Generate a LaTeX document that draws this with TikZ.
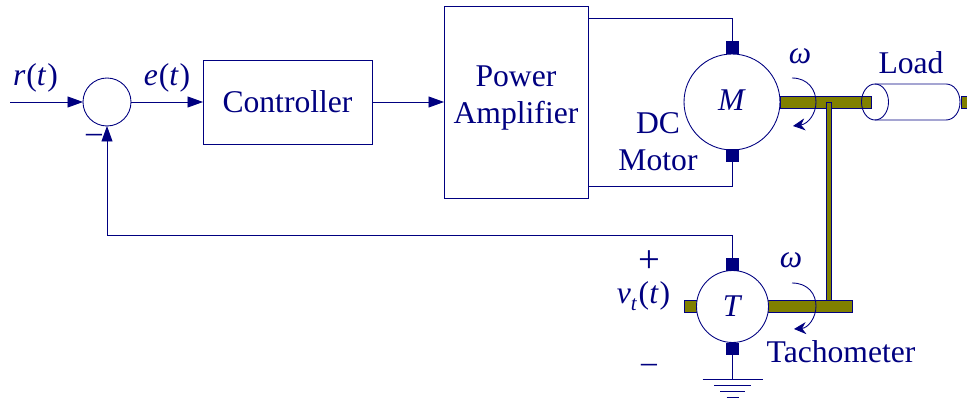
\documentclass[tikz,border=0pt]{standalone}
\usepackage{fontspec}
\setmainfont{Liberation Serif}
\usetikzlibrary{arrows.meta}

\tikzset{
  wire/.style={draw=diagblue, line width=0.5pt},
  feed/.style={wire, -{Triangle[length=0.31cm,width=0.22cm]}},
  spin/.style={wire, -{Stealth[length=0.24cm,width=0.24cm]}},
  block/.style={draw=diagblue, line width=0.5pt, inner sep=0pt, outer sep=0pt},
  round/.style={block, circle, fill=white},
  brush/.style={fill=diagblue, inner sep=0pt, outer sep=0pt, minimum size=0.26cm},
  shaft/.style={fill=shaftcolor, draw=diagblue, line width=0.5pt},
  txt/.style={text=diagblue, inner sep=0pt, align=center}
}

\begin{document}
\begin{tikzpicture}[x=0.02cm,y=-0.02cm,font=\fontsize{18}{21}\selectfont]

% Colors of the plant
\definecolor{diagblue}{RGB}{0,0,128}
\definecolor{shaftcolor}{RGB}{128,128,0}

\useasboundingbox (0,0) rectangle (967,398);

% Forward path blocks
\node[round, minimum size=0.96cm] (sum) at (107,102) {};
\node[block, minimum width=3.38cm, minimum height=1.68cm, txt] (ctrl) at (287.5,102) {Controller};
\node[block, minimum width=2.88cm, minimum height=3.84cm, txt] (amp) at (516,102) {};
\node[txt] (amptxt) at (516,98) {Power\\Amplifier};

% Shafts and load
\draw[shaft] (780,96) rectangle (871,108);
\draw[shaft, line width=0.35pt] (826.5,102) rectangle (831,300);
\draw[shaft] (684,300.5) rectangle (852,312.5);
\draw[shaft] (961,96) rectangle (967,108);
\draw[wire] (875,102) ellipse (13.5 and 18);
\draw[wire] (875,84) -- (946,84) .. controls (954,84) and (960,92) .. (960,102)
  .. controls (960,112) and (954,120) .. (946,120) -- (875,120);

% Motor and tachometer
\node[round, minimum size=1.92cm, txt] (motor) at (732,102) {\raisebox{0.06cm}{\textit{M}}};
\node[round, minimum size=1.44cm, txt] (tach) at (732.5,306.5) {\raisebox{-0.05cm}{\textit{T}}};
\node[brush] (mtop) at (732.5,48) {};
\node[brush] (mbot) at (732.5,156) {};
\node[brush] (ttop) at (732.5,264.5) {};
\node[brush] (tbot) at (732.5,349) {};

% Free ends of the wires
\coordinate (rin) at (10,102);
\coordinate (ampup) at (588,18);
\coordinate (ampdown) at (588,186);
\coordinate (fbturn) at (107,235);
\coordinate (gnd) at (732.5,379);

% Signal path
\draw[feed] (rin) -- (sum.west);
\draw[feed] (sum.east) -- (ctrl.west);
\draw[feed] (ctrl.east) -- (amp.west);
\draw[wire] (ampup) -| (mtop.north);
\draw[wire] (ampdown) -| (mbot.south);
\draw[feed] (ttop.north) |- (fbturn) -- (sum.south);
\draw[wire] (tbot.south) -- (gnd);

% Ground bars
\foreach \w/\y in {30/0,18.5/6,12.5/12,6/18} {
  \draw[wire] ([xshift=-\w*0.02cm,yshift=-\y*0.02cm]gnd) -- ([xshift=\w*0.02cm,yshift=-\y*0.02cm]gnd);
}

% Rotation marks
\draw[spin] (792,78) .. controls (808,78) and (816,90) .. (816,102)
  .. controls (816,114) and (808,124) .. (793,126);
\draw[spin] (792,283) .. controls (808,283) and (816,294) .. (816,306)
  .. controls (816,318) and (808,328) .. (794,329);

% Labels
\node[txt] (rlab) at (35.5,78) {\textit{r}\kern0.03em(\textit{t}\kern0.03em)};
\node[txt] (elab) at (167,78) {\textit{e}\kern0.03em(\textit{t}\kern0.03em)};
\node[txt] (minus) at (94,138) {–};
\node[txt] (motlab) at (658,142) {DC\\Motor};
\node[txt] (w1) at (800,56) {\textit{ω}};
\node[txt] (loadlab) at (911,63) {Load};
\node[txt, font=\fontsize{22}{24}\selectfont] (plus) at (649,262) {+};
\node[txt] (vlab) at (643.5,296) {\textit{v}\raisebox{-0.5ex}{\fontsize{12}{14}\selectfont\textit{t}}\kern0.05em(\textit{t}\kern0.03em)};
\node[txt] (tminus) at (649,368) {–};
\node[txt] (w2) at (791,260) {\textit{ω}};
\node[txt] (tachlab) at (841,352) {Tachometer};

\end{tikzpicture}
\end{document}
